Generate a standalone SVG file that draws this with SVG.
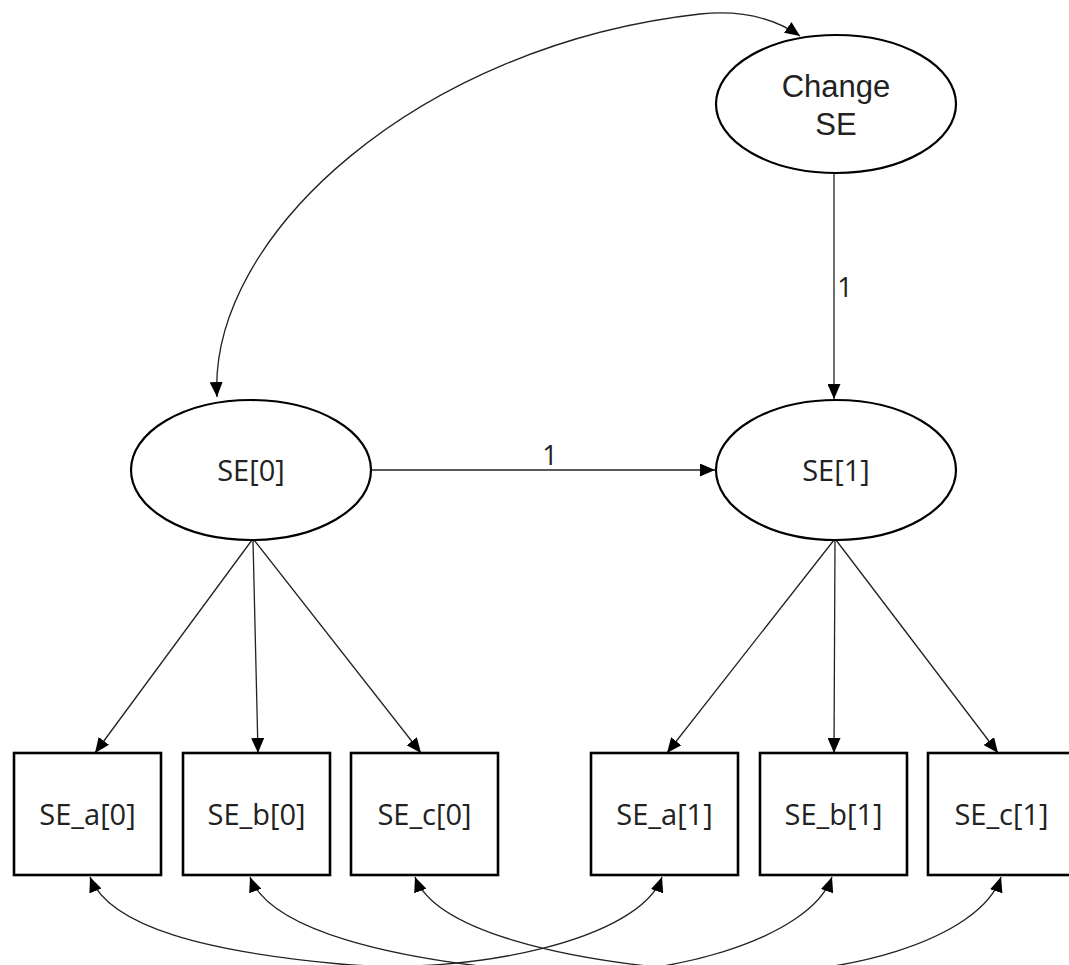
<svg xmlns="http://www.w3.org/2000/svg" width="1069" height="965" viewBox="0 0 1069 965">
<defs>
<style>
.node{fill:#fff;stroke:#000;stroke-width:2.2}
.box{fill:#fff;stroke:#000;stroke-width:2.6}
.lbl{font-family:"Open Sans","Liberation Sans",sans-serif;font-size:29px;fill:#222;text-anchor:middle}
.arial{font-family:"Liberation Sans",Arial,sans-serif;font-size:31px;fill:#222;text-anchor:middle}
.edge{fill:none;stroke:#222;stroke-width:1.3}
.el{font-family:"Open Sans","Liberation Sans",sans-serif;font-size:27px;fill:#222;text-anchor:middle}
</style>
<marker id="arr" viewBox="0 0 15 13" refX="15" refY="6.5" markerWidth="15" markerHeight="13" markerUnits="userSpaceOnUse" orient="auto-start-reverse">
<path d="M0,0 L15,6.5 L0,13 z" fill="#000"/>
</marker>
</defs>
<rect width="1069" height="965" fill="#fff"/>
<g id="connectors">
<path class="edge" d="M217,397 C208,235 420,45 700,14 C750,9 780,22 800,36" marker-start="url(#arr)" marker-end="url(#arr)"/>
<line class="edge" x1="834" y1="173" x2="834" y2="399" marker-end="url(#arr)"/>
<text class="el" x="845" y="297">1</text>
<line class="edge" x1="372" y1="470" x2="715" y2="470" marker-end="url(#arr)"/>
<text class="el" x="550" y="465">1</text>
<line class="edge" x1="252" y1="540" x2="95" y2="753" marker-end="url(#arr)"/>
<line class="edge" x1="253" y1="540" x2="258" y2="753" marker-end="url(#arr)"/>
<line class="edge" x1="254" y1="540" x2="421" y2="753" marker-end="url(#arr)"/>
<line class="edge" x1="834" y1="540" x2="667" y2="753" marker-end="url(#arr)"/>
<line class="edge" x1="835" y1="540" x2="834" y2="753" marker-end="url(#arr)"/>
<line class="edge" x1="836" y1="540" x2="998" y2="753" marker-end="url(#arr)"/>
<path class="edge" d="M90,877 C110,928 210,952 340,964 C470,976 640,940 662,877" marker-start="url(#arr)" marker-end="url(#arr)"/>
<path class="edge" d="M250,877 C270,930 390,960 540,972 C660,982 810,940 832,877" marker-start="url(#arr)" marker-end="url(#arr)"/>
<path class="edge" d="M415,877 C435,930 560,962 715,972 C840,980 980,940 1001,877" marker-start="url(#arr)" marker-end="url(#arr)"/>
</g>
<g id="node-change-se">
<ellipse class="node" cx="836" cy="104" rx="120" ry="69"/>
<text class="arial" x="836" y="97">Change</text>
<text class="arial" x="836" y="135">SE</text>
</g>
<g id="node-se0">
<ellipse class="node" cx="251" cy="470" rx="120" ry="70"/>
<text class="lbl" x="251" y="481">SE[0]</text>
</g>
<g id="node-se1">
<ellipse class="node" cx="836" cy="470" rx="120" ry="70"/>
<text class="lbl" x="836" y="481">SE[1]</text>
</g>
<g id="node-se-a0">
<rect class="box" x="14" y="753" width="147" height="122"/>
<text class="lbl" x="87.5" y="825">SE_a[0]</text>
</g>
<g id="node-se-b0">
<rect class="box" x="183" y="753" width="147" height="122"/>
<text class="lbl" x="256.5" y="825">SE_b[0]</text>
</g>
<g id="node-se-c0">
<rect class="box" x="351" y="753" width="147" height="122"/>
<text class="lbl" x="424.5" y="825">SE_c[0]</text>
</g>
<g id="node-se-a1">
<rect class="box" x="591" y="753" width="147" height="122"/>
<text class="lbl" x="664.5" y="825">SE_a[1]</text>
</g>
<g id="node-se-b1">
<rect class="box" x="760" y="753" width="147" height="122"/>
<text class="lbl" x="833.5" y="825">SE_b[1]</text>
</g>
<g id="node-se-c1">
<rect class="box" x="928" y="753" width="147" height="122"/>
<text class="lbl" x="1001.5" y="825">SE_c[1]</text>
</g>
</svg>
